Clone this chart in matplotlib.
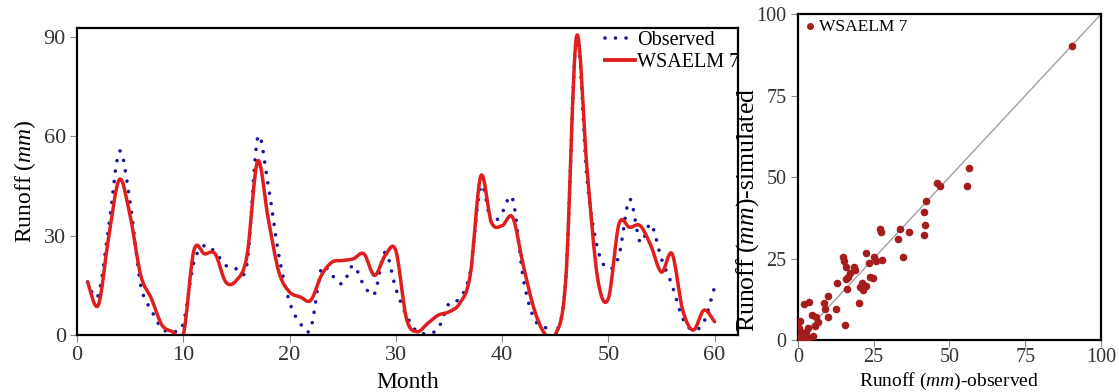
import numpy as np
import matplotlib
matplotlib.use('Agg')
import matplotlib.pyplot as plt
from matplotlib.path import Path
from matplotlib.patches import PathPatch
from matplotlib.lines import Line2D

plt.rcParams['font.family'] = ['Liberation Serif', 'DejaVu Serif']
plt.rcParams['mathtext.fontset'] = 'custom'
plt.rcParams['mathtext.rm'] = 'Liberation Serif'
plt.rcParams['mathtext.it'] = 'Liberation Serif:italic'

# monthly runoff (mm)
months = np.arange(1, 61)
observed = [16, 12, 33, 55.5, 40, 15, 7.5, 2, 1, 3.5,
            22, 27, 25, 21, 20, 21.5, 59.5, 45, 24, 10,
            3.5, 2, 20, 18, 15.5, 21, 15, 12.5, 25, 14,
            6, 1, 0.5, 2, 9.5, 11, 19, 45, 34, 37,
            41, 17, 5, 2.5, 0.5, 17, 90, 47, 26, 20,
            24, 41, 28, 33.5, 23, 15, 5, 1.5, 4, 14.5]
wsaelm7 = [16, 9, 30, 47, 36, 18, 11, 3, 1, 0,
           25.5, 24.5, 24.5, 16, 16.5, 24, 52.5, 35, 19, 13,
           11.5, 10.5, 18, 22, 22.5, 23, 24.5, 18, 24, 25.5,
           5, 1, 3.5, 6, 7, 9.5, 18, 48, 34, 33,
           35.5, 21, 8, 0.5, 0, 17, 90, 50, 17, 11,
           33.5, 32.5, 33, 27, 19, 24.5, 7.5, 1.5, 7.5, 4]

# scatter panel, observed vs simulated
scatter_obs = [90.5, 56.3, 55.7, 45.8, 46.9, 42.3, 41.6, 41.8, 41.6, 33.7,
               36.5, 32.9, 34.7, 27.1, 27.4, 27.9, 22.5, 25.2, 25.7, 23.6,
               23.8, 24.7, 22.4, 21.1, 20.5, 21.6, 20.3, 14.8, 15.1, 15.9,
               18.4, 18.7, 17.3, 16.4, 15.9, 12.9, 16.2, 15.6, 12.6, 10.1,
               8.5, 9.8, 9.0, 2.1, 3.8, 4.6, 6.0, 6.8, 5.7, 3.5,
               0.8, 0.5, 1.3, 2.4, 3.2, 4.9, 1.9, 0.2, 2.7, 1.0]
scatter_sim = [90.3, 52.7, 47.1, 48.3, 47.3, 42.5, 39.2, 35.3, 32.2, 34.0,
               33.1, 30.9, 25.5, 34.0, 33.1, 24.6, 26.8, 25.6, 24.1, 23.5,
               19.4, 19.1, 16.6, 17.6, 16.4, 15.4, 11.3, 25.4, 24.1, 22.5,
               22.5, 21.5, 20.7, 19.4, 18.6, 17.6, 15.6, 4.6, 9.4, 13.5,
               11.3, 7.2, 9.4, 11.1, 11.8, 7.7, 7.2, 5.6, 4.3, 3.6,
               5.9, 3.6, 2.0, 1.5, 0.5, 1.2, 0.5, 0.5, 2.6, 1.5]

BLUE = '#16169a'
RED = '#e01e1e'
DOTS = (0, (0.01, 2.9))


def smooth_path(x, y):
    # excel-like smoothed line, bezier segments through every point
    x = np.asarray(x, float)
    y = np.asarray(y, float)
    px = np.r_[x[0], x, x[-1]]
    py = np.r_[y[0], y, y[-1]]
    verts = [(x[0], y[0])]
    codes = [Path.MOVETO]
    for i in range(len(x) - 1):
        c1 = (x[i] + (px[i + 2] - px[i]) / 6, y[i] + (py[i + 2] - py[i]) / 6)
        c2 = (x[i + 1] - (px[i + 3] - px[i + 1]) / 6, y[i + 1] - (py[i + 3] - py[i + 1]) / 6)
        verts += [c1, c2, (x[i + 1], y[i + 1])]
        codes += [Path.CURVE4] * 3
    return Path(verts, codes)


fig = plt.figure(figsize=(11.19, 3.92), dpi=100)
ax = fig.add_axes([0.0688, 0.1454, 0.5907, 0.7832])
ax2 = fig.add_axes([0.713, 0.1327, 0.271, 0.8313])

# time series
ax.add_patch(PathPatch(smooth_path(months, observed), fill=False, edgecolor=BLUE,
                       lw=2.6, linestyle=DOTS, capstyle='round'))
ax.add_patch(PathPatch(smooth_path(months, wsaelm7), fill=False, edgecolor=RED,
                       lw=2.5, capstyle='round', joinstyle='round'))
ax.set_xlim(0, 62.2)
ax.set_ylim(0, 92.7)
ax.set_xticks(range(0, 61, 10))
ax.set_yticks([0, 30, 60, 90])
ax.set_xlabel('Month', fontsize=17)
ax.xaxis.set_label_coords(0.5, -0.122)
ax.set_ylabel(r'Runoff ($\it{mm}$)', fontsize=17, labelpad=4)
handles = [Line2D([], [], color=BLUE, lw=2.6, linestyle=DOTS, dash_capstyle='round'),
           Line2D([], [], color=RED, lw=2.8)]
ax.legend(handles, ['Observed', 'WSAELM 7'], loc='upper left', bbox_to_anchor=(0.795, 1.0),
          frameon=False, fontsize=14.5, handlelength=1.45, handletextpad=0.1,
          borderaxespad=0, borderpad=0.15, labelspacing=0.15)

# scatter
ax2.plot([0, 100], [0, 100], color='#a0a0a0', lw=1)
ax2.scatter(scatter_obs, scatter_sim, s=20, color='#a51c1c', zorder=3, label='WSAELM 7')
ax2.set_xlim(0, 100)
ax2.set_ylim(0, 100)
ax2.set_xticks([0, 25, 50, 75, 100])
ax2.set_yticks([0, 25, 50, 75, 100])
ax2.set_xlabel(r'Runoff ($\it{mm}$)-observed', fontsize=14)
ax2.xaxis.set_label_coords(0.5, -0.095)
ax2.set_ylabel(r'Runoff ($\it{mm}$)-simulated', fontsize=18.5)
ax2.yaxis.set_label_coords(-0.122, 0.4)
ax2.legend(loc='upper left', frameon=False, fontsize=12.5, handletextpad=0.05,
           handlelength=0.9, borderaxespad=0.05, borderpad=0.2, markerscale=0.9)

for a, fs in ((ax, 16), (ax2, 14.5)):
    for s in a.spines.values():
        s.set_linewidth(1.6)
        s.set_color('black')
    a.tick_params(direction='out', length=5, width=0.8, color='#888888',
                  labelsize=fs, labelcolor='#333333', pad=3)
ax2.tick_params(axis='x', pad=1)

fig.savefig('out.png', dpi=100)
